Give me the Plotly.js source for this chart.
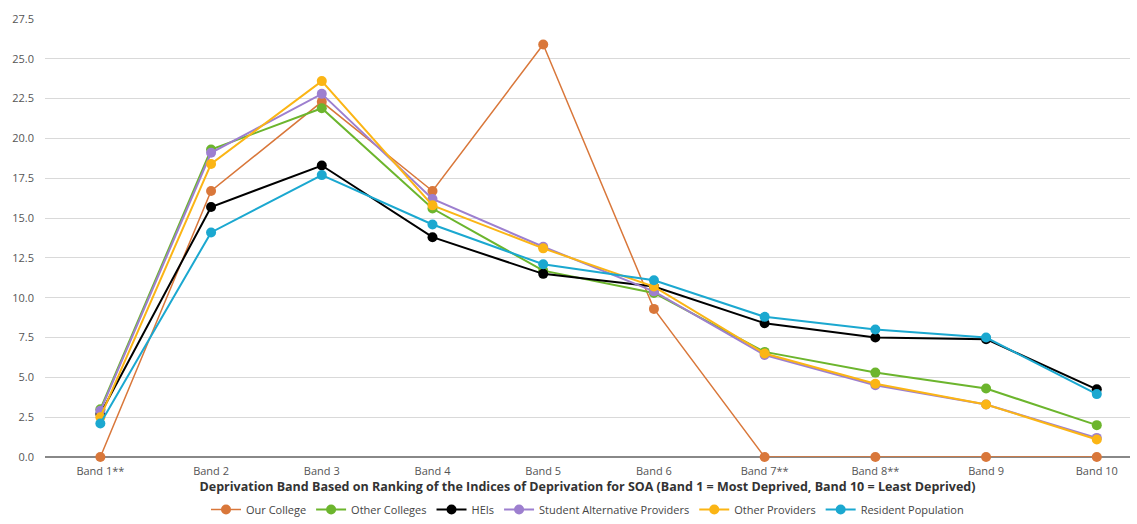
<!DOCTYPE html>
<html>
<head>
<meta charset="utf-8">
<script src="https://cdn.plot.ly/plotly-3.0.1.min.js"></script>
<style>html,body{margin:0;padding:0;background:#fff;}#chart{width:1137px;height:524px;}</style>
</head>
<body>
<div id="chart"></div>
<script>
const categories = ["Band 1**","Band 2","Band 3","Band 4","Band 5","Band 6","Band 7**","Band 8**","Band 9","Band 10"];
const ourCollege = [0, 16.7, 22.3, 16.7, 25.9, 9.3, 0, 0, 0, 0];
const otherColleges = [3.0, 19.3, 21.9, 15.6, 11.7, 10.3, 6.6, 5.3, 4.3, 2.0];
const heis = [2.7, 15.7, 18.3, 13.8, 11.5, 10.7, 8.4, 7.5, 7.4, 4.25];
const studentAltProviders = [2.9, 19.1, 22.8, 16.2, 13.2, 10.4, 6.4, 4.5, 3.3, 1.2];
const otherProviders = [2.5, 18.4, 23.6, 15.8, 13.1, 10.7, 6.5, 4.6, 3.3, 1.1];
const residentPopulation = [2.1, 14.1, 17.7, 14.6, 12.1, 11.1, 8.8, 8.0, 7.5, 3.95];
const yTicks = [0, 2.5, 5, 7.5, 10, 12.5, 15, 17.5, 20, 22.5, 25, 27.5];

const seriesDefs = [
  {name: "Our College", y: ourCollege, color: "#d9773a", w: 1.5},
  {name: "Other Colleges", y: otherColleges, color: "#6cb52d", w: 2},
  {name: "HEIs", y: heis, color: "#000000", w: 2},
  {name: "Student Alternative Providers", y: studentAltProviders, color: "#9d7fcf", w: 2},
  {name: "Other Providers", y: otherProviders, color: "#fbb515", w: 2},
  {name: "Resident Population", y: residentPopulation, color: "#1ba8d0", w: 2}
];

const traces = seriesDefs.map(s => ({
  type: "scatter", mode: "lines+markers", name: s.name,
  x: categories, y: s.y, cliponaxis: false,
  line: {color: s.color, width: s.w},
  marker: {color: s.color, size: 10}
}));

const FF = "Open Sans, sans-serif";
const layout = {
  width: 1137, height: 524,
  margin: {l: 45, r: 7, t: 19, b: 67},
  paper_bgcolor: "#fff", plot_bgcolor: "#fff",
  font: {family: FF, size: 11, color: "#555"},
  showlegend: true,
  legend: {orientation: "h", x: 0.5, xanchor: "center", yref: "container", y: -0.026, yanchor: "bottom",
           font: {family: FF, size: 11, color: "#444"}, itemwidth: 30, tracegroupgap: 0},
  xaxis: {
    type: "category", range: [-0.5, 9.3], showgrid: false, zeroline: false,
    showline: false, ticks: "", tickfont: {family: FF, size: 11, color: "#555"},
    ticklabelstandoff: 6, automargin: false,
    title: {text: "Deprivation Band Based on Ranking of the Indices of Deprivation for SOA (Band 1 = Most Deprived, Band 10 = Least Deprived)",
            font: {size: 12.5, color: "#333", family: FF, weight: "bold"}}
  },
  yaxis: {
    range: [0, 27.5], tickvals: yTicks, ticktext: yTicks.map(v => v.toFixed(1)),
    showgrid: true, gridcolor: "#d9d9d9", gridwidth: 1,
    zeroline: true, zerolinecolor: "#888", zerolinewidth: 1.5,
    tickfont: {family: FF, size: 11, color: "#555"}, ticks: "", ticklabelstandoff: 10, automargin: false
  }
};

Plotly.newPlot("chart", traces, layout, {displayModeBar: false, staticPlot: true});
</script>
</body>
</html>
